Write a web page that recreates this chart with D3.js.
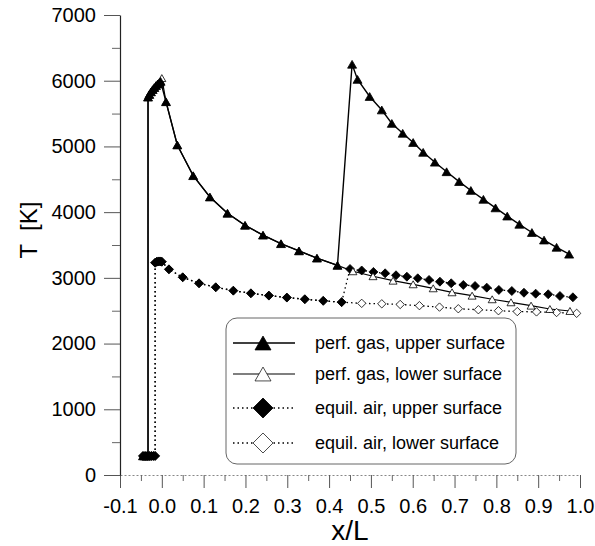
<!DOCTYPE html>
<html>
<head>
<meta charset="utf-8">
<script src="https://cdn.jsdelivr.net/npm/d3@7"></script>
<style>
body { margin: 0; background: #fff; }
svg { font-family: "Liberation Sans", Arial, sans-serif; }
</style>
</head>
<body>
<svg id="chart" width="595" height="546"></svg>
<script>
// values: x/L and T [K]
var pgUpperX = [-0.045,-0.041,-0.037,-0.033,-0.033,-0.030,-0.026,-0.022,-0.018,-0.014,-0.010,-0.006,-0.003,0.010,0.037,0.075,0.115,0.157,0.199,0.242,0.285,0.328,0.371,0.420,0.455,0.468,0.497,0.526,0.550,0.576,0.601,0.625,0.653,0.681,0.711,0.739,0.769,0.798,0.826,0.855,0.885,0.914,0.944,0.974];
var pgUpperT = [290,290,290,290,5750,5790,5830,5865,5895,5925,5950,5970,5990,5680,5022,4555,4230,3983,3800,3650,3520,3410,3300,3190,6250,6020,5760,5555,5350,5200,5060,4910,4760,4615,4465,4330,4195,4065,3940,3815,3690,3575,3465,3360];

var pgLowerX = [-0.045,-0.041,-0.037,-0.033,-0.033,-0.030,-0.026,-0.022,-0.018,-0.014,-0.010,-0.006,-0.003,0.000,0.010,0.037,0.075,0.115,0.157,0.199,0.242,0.285,0.328,0.371,0.420,0.457,0.505,0.553,0.601,0.649,0.694,0.742,0.790,0.835,0.883,0.928,0.976];
var pgLowerT = [290,290,290,290,5750,5790,5830,5865,5895,5925,5950,5970,5990,6040,5680,5022,4555,4230,3983,3800,3650,3520,3410,3300,3190,3100,3025,2957,2902,2841,2780,2729,2674,2628,2577,2526,2496];

var eqUpperX = [-0.045,-0.040,-0.035,-0.030,-0.025,-0.020,-0.016,-0.016,-0.012,-0.008,-0.004,0.000,0.017,0.050,0.089,0.129,0.171,0.213,0.256,0.299,0.342,0.386,0.430,0.450,0.478,0.506,0.534,0.560,0.586,0.612,0.639,0.665,0.692,0.721,0.749,0.777,0.806,0.837,0.866,0.894,0.924,0.952,0.983];
var eqUpperT = [290,290,290,290,290,290,290,3230,3245,3250,3250,3245,3130,3009,2917,2857,2805,2765,2730,2700,2675,2650,2630,3135,3112,3090,3069,3039,3018,2993,2968,2942,2917,2892,2876,2851,2816,2800,2774,2759,2750,2724,2704];

var eqLowerX = [-0.045,-0.040,-0.035,-0.030,-0.025,-0.020,-0.016,-0.016,-0.012,-0.008,-0.004,0.000,0.017,0.050,0.089,0.129,0.171,0.213,0.256,0.299,0.342,0.386,0.430,0.478,0.526,0.570,0.616,0.664,0.709,0.757,0.805,0.850,0.896,0.944,0.992];
var eqLowerT = [290,290,290,290,290,290,290,3230,3245,3250,3250,3245,3130,3009,2917,2857,2805,2765,2730,2700,2675,2650,2630,2612,2605,2595,2577,2555,2530,2515,2500,2487,2482,2473,2460];

var xTickValues = [-0.1,0.0,0.1,0.2,0.3,0.4,0.5,0.6,0.7,0.8,0.9,1.0];
var xTickLabels = ["-0.1","0.0","0.1","0.2","0.3","0.4","0.5","0.6","0.7","0.8","0.9","1.0"];
var xMinorValues = [-0.05,0.05,0.15,0.25,0.35,0.45,0.55,0.65,0.75,0.85,0.95];
var yTickValues = [0,1000,2000,3000,4000,5000,6000,7000];
var yMinorValues = [500,1500,2500,3500,4500,5500,6500];

var legendLabels = ["perf. gas, upper surface","perf. gas, lower surface","equil. air, upper surface","equil. air, lower surface"];

var svg = d3.select("#chart");

var x = d3.scaleLinear().domain([-0.1, 1.0]).range([120, 580]);
var y = d3.scaleLinear().domain([0, 7000]).range([475, 15]);

// marker shapes
function triPath(s) {
    var h = s * 0.866;
    return "M0," + (-h/2) + "L" + (s/2) + "," + (h/2) + "L" + (-s/2) + "," + (h/2) + "Z";
}
function diaPath(r) {
    return "M0," + (-r) + "L" + r + ",0L0," + r + "L" + (-r) + ",0Z";
}

// axes
var xAxis = svg.append("g")
    .attr("transform", "translate(0," + y(0) + ")")
    .call(d3.axisBottom(x).tickValues(xTickValues).tickSize(13).tickSizeOuter(0)
        .tickPadding(11).tickFormat(function(d, i) { return xTickLabels[i]; }));
xAxis.attr("font-size", 20).attr("font-family", "Liberation Sans, Arial, sans-serif").attr("color", "#555");
xAxis.selectAll("text").attr("fill", "#000");
xAxis.select(".domain").attr("stroke", "#888").attr("stroke-dasharray", "2,2");

svg.append("g")
    .attr("transform", "translate(0," + y(0) + ")")
    .attr("color", "#666")
    .call(d3.axisBottom(x).tickValues(xMinorValues).tickSize(6).tickFormat(""))
    .select(".domain").remove();

var yAxis = svg.append("g")
    .attr("transform", "translate(" + x(-0.1) + ",0)")
    .call(d3.axisLeft(y).tickValues(yTickValues).tickSize(16).tickSizeOuter(0)
        .tickPadding(8).tickFormat(d3.format("d")));
yAxis.attr("font-size", 20).attr("font-family", "Liberation Sans, Arial, sans-serif").attr("color", "#555");
yAxis.selectAll("text").attr("fill", "#000");
yAxis.select(".domain").attr("stroke", "#222").attr("stroke-width", 1.2);

svg.append("g")
    .attr("transform", "translate(" + x(-0.1) + ",0)")
    .attr("color", "#666")
    .call(d3.axisLeft(y).tickValues(yMinorValues).tickSize(8).tickFormat(""))
    .select(".domain").remove();

svg.append("text")
    .attr("x", 350).attr("y", 540)
    .attr("text-anchor", "middle")
    .attr("font-size", 28)
    .text("x/L");

svg.append("text")
    .attr("transform", "translate(29,230) rotate(-90)")
    .attr("text-anchor", "middle")
    .attr("dy", "0.35em")
    .attr("font-size", 24)
    .attr("xml:space", "preserve")
    .text("T  [K]");

// series
var line = d3.line()
    .x(function(d) { return x(d[0]); })
    .y(function(d) { return y(d[1]); });

var series = [
    {xs: eqLowerX, ts: eqLowerT, dash: "1.5,3", width: 1.3, shape: diaPath(4.2), fill: "#fff"},
    {xs: eqUpperX, ts: eqUpperT, dash: "1.5,3", width: 1.3, shape: diaPath(4.5), fill: "#000"},
    {xs: pgLowerX, ts: pgLowerT, dash: null, width: 1.2, shape: triPath(8), fill: "#fff"},
    {xs: pgUpperX, ts: pgUpperT, dash: null, width: 1.4, shape: triPath(9), fill: "#000"}
];

series.forEach(function(s) {
    svg.append("path")
        .datum(d3.zip(s.xs, s.ts))
        .attr("d", line)
        .attr("fill", "none")
        .attr("stroke", "#000")
        .attr("stroke-width", s.width)
        .attr("stroke-dasharray", s.dash);
});

series.forEach(function(s) {
    svg.append("g").selectAll("path")
        .data(d3.zip(s.xs, s.ts))
        .enter().append("path")
        .attr("transform", function(d) { return "translate(" + x(d[0]) + "," + y(d[1]) + ")"; })
        .attr("d", s.shape)
        .attr("fill", s.fill)
        .attr("stroke", "#000")
        .attr("stroke-width", 0.8);
});

// legend
var legend = svg.append("g");
legend.append("rect")
    .attr("x", 226).attr("y", 318)
    .attr("width", 290).attr("height", 146)
    .attr("rx", 11).attr("ry", 11)
    .attr("fill", "#fff")
    .attr("stroke", "#666")
    .attr("stroke-width", 1);

var legendY = [343, 374, 408, 443];
var legendStyle = [
    {dash: null, width: 1.5, shape: triPath(16), fill: "#000", sw: 0.8},
    {dash: null, width: 1.1, shape: triPath(16), fill: "#fff", sw: 0.7},
    {dash: "1.5,3", width: 1.3, shape: diaPath(10), fill: "#000", sw: 0.8},
    {dash: "1.5,3", width: 1.3, shape: diaPath(10), fill: "#fff", sw: 0.7}
];

var rows = legend.selectAll(".row")
    .data(legendLabels)
    .enter().append("g")
    .attr("class", "row")
    .attr("transform", function(d, i) { return "translate(0," + legendY[i] + ")"; });

rows.append("line")
    .attr("x1", 233).attr("x2", 295)
    .attr("stroke", "#000")
    .attr("stroke-width", function(d, i) { return legendStyle[i].width; })
    .attr("stroke-dasharray", function(d, i) { return legendStyle[i].dash; });

rows.append("path")
    .attr("transform", "translate(263,0)")
    .attr("d", function(d, i) { return legendStyle[i].shape; })
    .attr("fill", function(d, i) { return legendStyle[i].fill; })
    .attr("stroke", "#000")
    .attr("stroke-width", function(d, i) { return legendStyle[i].sw; });

rows.append("text")
    .attr("x", 315)
    .attr("dy", "0.35em")
    .attr("font-size", 18)
    .text(function(d) { return d; });
</script>
</body>
</html>
